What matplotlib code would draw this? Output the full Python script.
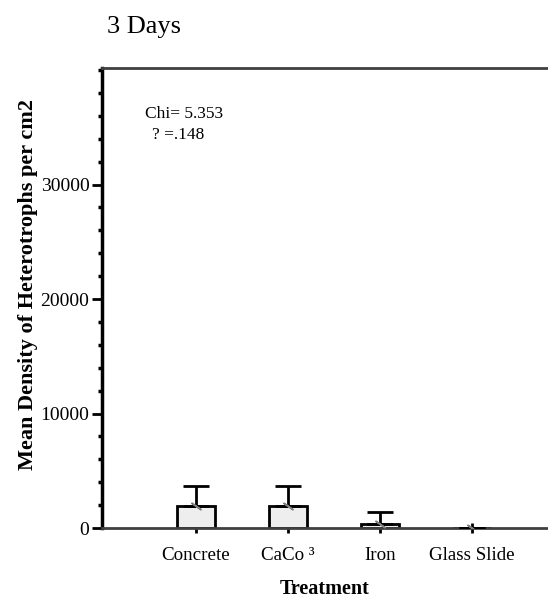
import matplotlib.pyplot as plt
import numpy as np

plt.rcParams["font.family"] = ["Liberation Serif", "DejaVu Serif"]

# treatments and mean densities (with upper error)
treatments = ["Concrete", "CaCo \u00b3", "Iron", "Glass Slide"]
means = [1920, 1920, 380, 0]
errors = [1750, 1750, 1020, 0]

fig = plt.figure(figsize=(5.48, 6.02), dpi=100)
ax = fig.add_axes([0.1861, 0.1229, 0.8139, 0.7646])

x = np.arange(1, len(treatments) + 1)
ax.bar(x, means, width=0.41, color="#eeeeee", edgecolor="black", linewidth=2, zorder=2)
ax.errorbar(x, means, yerr=[np.zeros(len(means)), errors], fmt="none",
            ecolor="black", elinewidth=2, capsize=9.5, capthick=2, zorder=3)
ax.scatter(x, means, marker=(2, 2, 55), s=60, color="#808080", linewidths=1.2, zorder=4)

ax.set_xlim(-0.02, 4.83)
ax.set_ylim(0, 40200)
ax.set_xticks(x)
ax.set_xticklabels(treatments, fontsize=13.7)
ax.set_yticks([0, 10000, 20000, 30000])
ax.set_yticks(np.arange(2000, 40001, 2000), minor=True)
ax.tick_params(axis="y", which="major", length=7, width=2, labelsize=14, pad=2)
ax.tick_params(axis="y", which="minor", length=3, width=2.5)
ax.tick_params(axis="x", which="major", length=7, width=2, direction="inout", pad=10)

ax.spines["right"].set_visible(False)
ax.spines["left"].set_linewidth(2.5)
ax.spines["left"].set_color("black")
ax.spines["top"].set_linewidth(2)
ax.spines["top"].set_color("#404040")
ax.spines["bottom"].set_linewidth(2)
ax.spines["bottom"].set_color("#404040")

ax.set_ylabel("Mean Density of Heterotrophs per cm2", fontsize=16, fontweight="bold")
ax.yaxis.set_label_coords(-0.143, 0.53)
ax.set_xlabel("Treatment", fontsize=14.5, fontweight="bold", labelpad=11)

ax.text(0.097, 0.900, "Chi= 5.353", transform=ax.transAxes, fontsize=12.5, va="center")
ax.text(0.112, 0.853, "? =.148", transform=ax.transAxes, fontsize=12.5, va="center")

fig.text(0.195, 0.955, "3 Days", fontsize=19, va="center")

fig.savefig("out.png", dpi=100)
